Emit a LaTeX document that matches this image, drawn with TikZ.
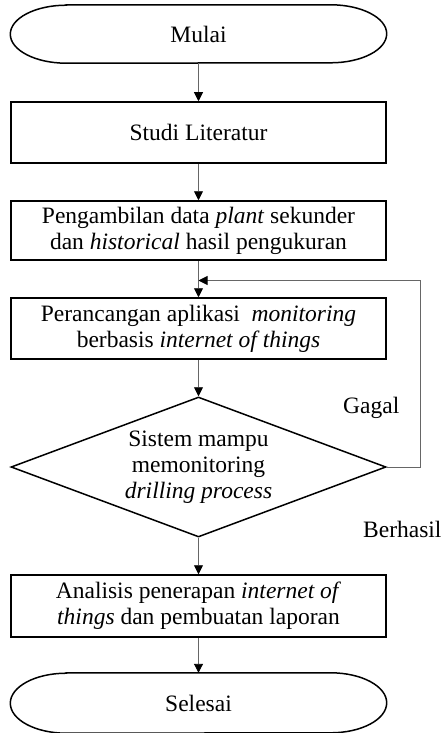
\documentclass[tikz,border=0pt]{standalone}
\usepackage{fontspec}
\setmainfont{Liberation Serif}
\usetikzlibrary{arrows.meta,shapes.geometric}

\tikzset{
  base/.style={font=\fontsize{23.5}{26}\selectfont, align=center, inner sep=0pt},
  process/.style={base, draw=black, line width=1.5pt, minimum width=375pt},
  terminal/.style={base, draw=none, minimum width=376pt, minimum height=58pt},
  decision/.style={base, diamond, draw=black, line width=1.5pt, aspect=2.68,
                   minimum width=375pt, minimum height=140pt},
  arr/.style={draw=black!60, line width=0.9pt,
              -{Triangle[length=9pt,width=9pt,color=black]}},
  lbl/.style={font=\fontsize{23.5}{26}\selectfont, inner sep=0pt}
}

\newcommand{\capsule}[1]{%
  \draw[line width=1.5pt]
    ([xshift=56pt]#1.north west) -- ([xshift=-56pt]#1.north east)
    arc[start angle=90, end angle=-90, x radius=56pt, y radius=29pt]
    -- ([xshift=56pt]#1.south west)
    arc[start angle=270, end angle=90, x radius=56pt, y radius=29pt]
    -- cycle;}

\begin{document}
\begin{tikzpicture}[x=1pt, y=-1pt]
  \useasboundingbox (0,0) rectangle (442,733);

  % flow steps
  \node[terminal] (start) at (198.5,34) {Mulai};
  \capsule{start}
  \node[process, minimum height=61pt] (lit) at (198.5,132.5) {Studi Literatur};
  \node[process, minimum height=59pt] (data) at (198.5,230.5)
    {Pengambilan data \textit{plant} sekunder\\dan \textit{historical} hasil pengukuran};
  \node[process, minimum height=61pt] (design) at (198.5,328.5)
    {Perancangan aplikasi \ \textit{monitoring}\\berbasis \textit{internet of things}};
  \node[decision] (dec) at (198.5,467)
    {Sistem mampu\\memonitoring\\\textit{drilling process}};
  \node[process, minimum height=62pt] (anal) at (198.5,606)
    {Analisis penerapan \textit{internet of}\\\textit{things} dan pembuatan laporan};
  \node[terminal, minimum height=60pt] (stop) at (198.5,703) {Selesai};
  \draw[line width=1.5pt]
    ([xshift=56pt]stop.north west) -- ([xshift=-56pt]stop.north east)
    arc[start angle=90, end angle=-90, x radius=56pt, y radius=30pt]
    -- ([xshift=56pt]stop.south west)
    arc[start angle=270, end angle=90, x radius=56pt, y radius=30pt]
    -- cycle;

  % branch labels
  \node[lbl, anchor=base west] (fail) at (343,413) {Gagal};
  \node[lbl, anchor=base west] (ok) at (363,537) {Berhasil};

  % connectors
  \coordinate (join) at (198.5,280.5);
  \coordinate (loopcorner) at (420.5,280.5);
  \draw[arr] (start.south) -- (lit.north);
  \draw[arr] (lit.south) -- (data.north);
  \draw[arr] (data.south) -- (design.north);
  \draw[arr] (design.south) -- (dec.north);
  \draw[arr] (dec.east) -| (loopcorner) -- (join);
  \draw[arr] (dec.south) -- (anal.north);
  \draw[arr] (anal.south) -- (stop.north);
\end{tikzpicture}
\end{document}
